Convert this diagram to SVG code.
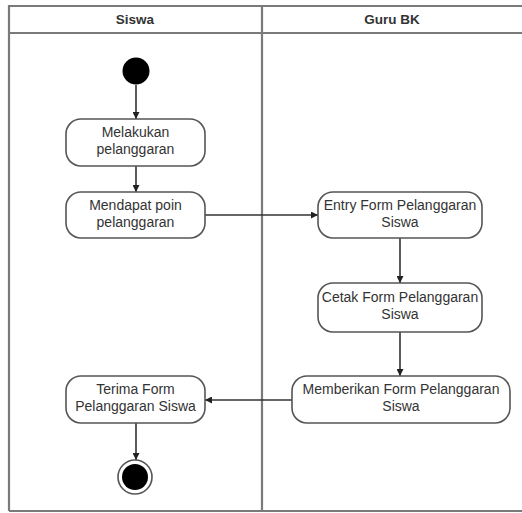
<svg xmlns="http://www.w3.org/2000/svg" width="522" height="513" viewBox="0 0 522 513">
<defs>
<marker id="ah" viewBox="0 0 10 10" refX="10" refY="5" markerWidth="7" markerHeight="7" orient="auto" markerUnits="userSpaceOnUse"><path d="M0,0 L10,5 L0,10 z" fill="#222"/></marker>
<style>
.lane{fill:none;stroke:#7a7a7a;stroke-width:2.2}
.hdr{font-family:"Liberation Sans",Arial,sans-serif;font-size:13.5px;font-weight:bold;fill:#333;text-anchor:middle}
.act{fill:#fff;stroke:#555;stroke-width:1.6}
.t{font-family:"Liberation Sans",Arial,sans-serif;font-size:14px;fill:#333;text-anchor:middle}
.c{fill:none;stroke:#333;stroke-width:1.6;marker-end:url(#ah)}
</style>
</defs>
<rect width="522" height="513" fill="#fff"/>
<g id="swimlanes">
<path class="lane" d="M9,511 V6 H524 M9,33 H524 M262,6 V511 M9,511 H524"/>
<text class="hdr" x="135" y="24">Siswa</text>
<text class="hdr" x="392" y="24">Guru BK</text>
</g>
<g id="connectors">
<line class="c" x1="136" y1="85" x2="136" y2="119"/>
<line class="c" x1="136" y1="166" x2="136" y2="192"/>
<line class="c" x1="205" y1="215" x2="318" y2="215"/>
<line class="c" x1="400" y1="238" x2="400" y2="283"/>
<line class="c" x1="400" y1="332" x2="400" y2="376"/>
<line class="c" x1="292" y1="400" x2="205" y2="400"/>
<line class="c" x1="136" y1="423" x2="136" y2="460"/>
</g>
<g id="start"><circle cx="136" cy="71" r="13.5" fill="#000"/></g>
<g id="melakukan"><rect class="act" x="66" y="119" width="139" height="47" rx="15"/><text class="t" x="135.5" y="137">Melakukan</text><text class="t" x="135.5" y="154">pelanggaran</text></g>
<g id="mendapat"><rect class="act" x="66" y="192" width="139" height="46" rx="15"/><text class="t" x="135.5" y="210">Mendapat poin</text><text class="t" x="135.5" y="227">pelanggaran</text></g>
<g id="entry"><rect class="act" x="318" y="192" width="164" height="46" rx="15"/><text class="t" x="400" y="210">Entry Form Pelanggaran</text><text class="t" x="400" y="227">Siswa</text></g>
<g id="cetak"><rect class="act" x="318" y="283" width="164" height="49" rx="15"/><text class="t" x="400" y="302">Cetak Form Pelanggaran</text><text class="t" x="400" y="319">Siswa</text></g>
<g id="memberikan"><rect class="act" x="292" y="376" width="218" height="47" rx="15"/><text class="t" x="401" y="394">Memberikan Form Pelanggaran</text><text class="t" x="401" y="411">Siswa</text></g>
<g id="terima"><rect class="act" x="66" y="376" width="139" height="47" rx="15"/><text class="t" x="135.5" y="394">Terima Form</text><text class="t" x="135.5" y="411">Pelanggaran Siswa</text></g>
<g id="end"><circle cx="135" cy="477" r="17" fill="#fff" stroke="#555" stroke-width="1.6"/><circle cx="135" cy="477" r="13" fill="#000"/></g>
</svg>
